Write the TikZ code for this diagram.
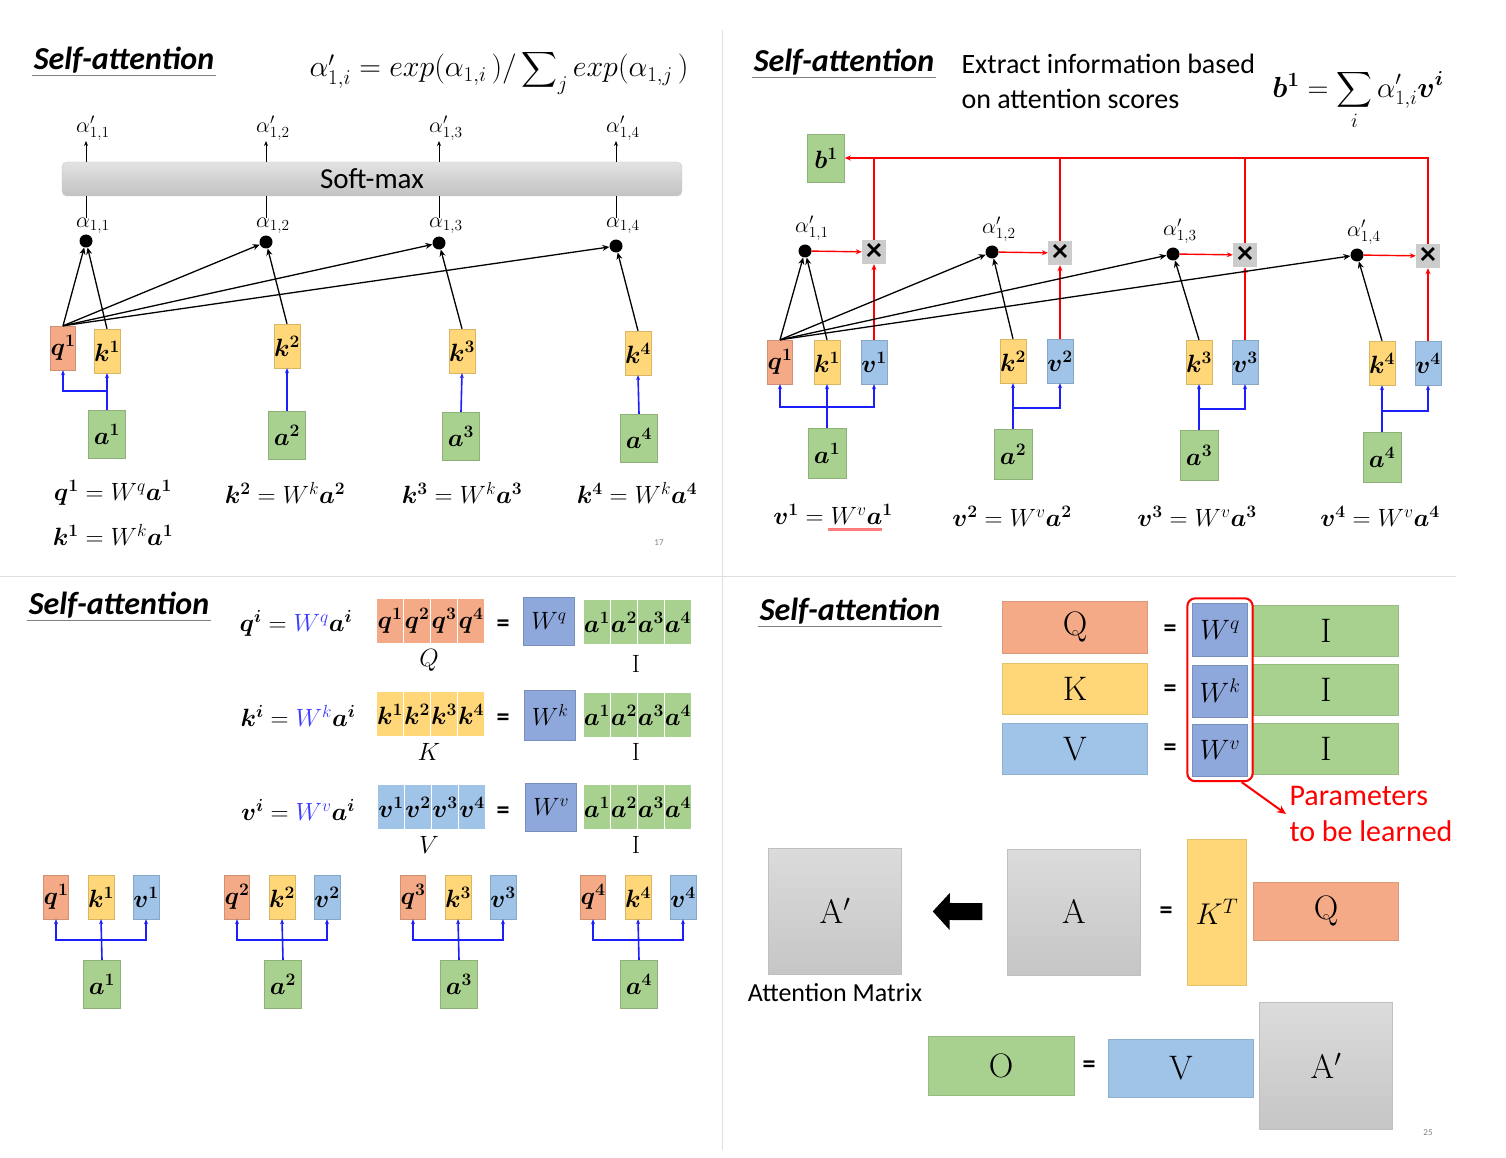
\RequirePackage{fix-cm}
\documentclass[tikz,border=0pt]{standalone}
\usepackage{amsmath,bm}
\usepackage[no-math]{fontspec}
\setmainfont{Carlito}
\usetikzlibrary{arrows.meta,fit,positioning}

\definecolor{qcol}{RGB}{244,170,135}
\definecolor{kcol}{RGB}{255,214,120}
\definecolor{vcol}{RGB}{160,195,232}
\definecolor{acol}{RGB}{168,208,142}
\definecolor{wcol}{RGB}{142,168,220}
\definecolor{feedblue}{RGB}{30,30,250}
\definecolor{wblue}{RGB}{60,60,255}

\newcommand{\mfont}{\fontsize{25}{27}\selectfont}
\newcommand{\lfont}{\fontsize{22}{23}\selectfont}
\newcommand{\bfont}{\fontsize{34}{36}\selectfont}

\tikzset{
  vecbox/.style={fill=#1, draw=#1!85!black, inner sep=0pt, minimum width=24, minimum height=44, font=\mfont},
  inbox/.style={fill=acol, draw=acol!85!black, inner sep=0pt, minimum width=37, minimum height=48, font=\mfont},
  cell/.style={fill=#1, draw=white, line width=1.2pt, inner sep=0pt, minimum width=27, minimum height=45, font=\mfont},
  bigbox/.style={fill=#1, draw=#1!90!black, inner sep=0pt, font=\bfont},
  graybox/.style={top color=gray!28, bottom color=gray!45, draw=gray!50, inner sep=0pt, minimum width=133, minimum height=126, font=\bfont},
  wbox/.style={fill=wcol, draw=wcol!85!black, inner sep=0pt, font=\fontsize{28}{30}\selectfont},
  scoredot/.style={circle, fill=black, inner sep=0pt, minimum size=13},
  mulbox/.style={fill=gray!40, inner sep=0pt, minimum size=24, font=\fontsize{32}{32}\selectfont\bfseries},
  score/.style={-{Stealth[length=7pt,width=6pt]}, line width=1.3pt},
  feed/.style={-{Stealth[length=5pt,width=4pt]}, feedblue, line width=1.6pt},
  sumline/.style={red, line width=1.4pt},
  sumarrow/.style={red, line width=1.4pt, -{Stealth[length=6pt,width=5pt]}},
  paneltitle/.style={font=\fontsize{32}{33}\selectfont\bfseries\itshape, inner sep=2pt},
  eqsign/.style={font=\fontsize{26}{26}\selectfont\bfseries, inner sep=1pt},
  pagenum/.style={font=\fontsize{9}{9}\selectfont, text=gray},
  fatarrow/.style={line width=17pt, -{Triangle[length=17pt,width=36pt]}, shorten <=25pt, shorten >=31pt},
}

\begin{document}
\begin{tikzpicture}[x=1pt, y=-1pt]
\useasboundingbox (0,0) rectangle (1506,1158);
% panel dividers
\draw[gray!25, line width=1pt] (722,30) -- (722,1150);
\draw[gray!25, line width=1pt] (0,576) -- (1456,576);

% ---------- top left: attention scores + soft-max
\node[paneltitle] (tl) at (124,60) {Self-attention};
\draw[gray, line width=0.8pt] (tl.south west) -- (tl.south east);
\node[font=\fontsize{30}{32}\selectfont] (smeq) at (499,72)
  {$\alpha'_{1,i} = exp(\alpha_{1,i}\,)/\displaystyle\sum\nolimits_j exp(\alpha_{1,j}\,)$};
\node[top color=gray!22, bottom color=gray!48, draw=gray!45, rounded corners=5, minimum width=620, minimum height=34,
  font=\fontsize{29}{30}\selectfont] (sm) at (372,179) {Soft-max};

\foreach \i/\x/\y in {1/86/241, 2/266/242, 3/439/243, 4/616/246} {
  \node[scoredot] (d\i) at (\x,\y) {};
  \node[anchor=south west, inner sep=0pt, font=\lfont] (s\i) at (\x-10,234) {$\alpha_{1,\i}$};
  \node[anchor=south west, inner sep=0pt, font=\lfont] (p\i) at (\x-10,141) {$\alpha'_{1,\i}$};
  \draw[-{Stealth[length=5pt,width=4pt]}, line width=1pt] (sm.north -| d\i) -- (d\i |- p\i.south);
  \draw[line width=1pt] (sm.south -| d\i) -- (d\i |- s\i.north);
}

\node[vecbox=qcol] (q1) at (63,348) {$\bm{q^1}$};
\foreach \i/\x/\y in {1/107/351, 2/287/346, 3/462/351, 4/638/353}
  \node[vecbox=kcol] (k\i) at (\x,\y) {$\bm{k^\i}$};
\foreach \i/\x/\y in {1/107/434, 2/287/435, 3/461/436, 4/639/438}
  \node[inbox] (a\i) at (\x,\y) {$\bm{a^\i}$};

\foreach \i in {1,...,4} {
  \draw[score] (q1.north) -- (d\i);
  \draw[score] (k\i.north) -- (d\i);
  \draw[feed] (a\i.north) -- (k\i.south);
}
\draw[feed] (a1.north) ++(0,-19) -| (q1.south);

\node[font=\mfont] (e1) at (113,493) {$\bm{q^1} = W^q\bm{a^1}$};
\node[font=\mfont] (e2) at (113,535) {$\bm{k^1} = W^k\bm{a^1}$};
\node[font=\mfont] (e3) at (285,493) {$\bm{k^2} = W^k\bm{a^2}$};
\node[font=\mfont] (e4) at (462,493) {$\bm{k^3} = W^k\bm{a^3}$};
\node[font=\mfont] (e5) at (637,493) {$\bm{k^4} = W^k\bm{a^4}$};
\node[pagenum] (pg1) at (659,543) {17};

% ---------- top right: weighted sum of values
\node[paneltitle] (tr) at (844,62) {Self-attention};
\draw[gray, line width=0.8pt] (tr.south west) -- (tr.south east);
\node[anchor=west, align=left, font=\fontsize{28}{35}\selectfont] (info) at (958,81)
  {Extract information based\\on attention scores};
\node[font=\fontsize{29}{31}\selectfont] (beq) at (1358,100)
  {$\bm{b^1} = \displaystyle\sum_i \alpha'_{1,i}\bm{v^i}$};
\node[inbox] (b1) at (826,158) {$\bm{b^1}$};

\foreach \i/\xd/\xm/\y in {1/805/874/251, 2/992/1060/252, 3/1173/1245/254, 4/1357/1428/255} {
  \node[scoredot] (bd\i) at (\xd,\y) {};
  \node[mulbox] (bm\i) at (\xm,\y+1) {×};
  \node[anchor=south west, inner sep=0pt, font=\lfont] (bp\i) at (\xd-10,\y-10) {$\alpha'_{1,\i}$};
}

\node[vecbox=qcol] (bq1) at (780,362) {$\bm{q^1}$};
\foreach \i/\xk/\xv/\y in {1/827/874/362, 2/1013/1060/361, 3/1199/1245/362, 4/1382/1428/363} {
  \node[vecbox=kcol] (bk\i) at (\xk,\y) {$\bm{k^\i}$};
  \node[vecbox=vcol] (bv\i) at (\xv,\y) {$\bm{v^\i}$};
}
\foreach \i/\x/\y in {1/827/453, 2/1013/454, 3/1199/455, 4/1382/457}
  \node[inbox, minimum width=38, minimum height=50] (ba\i) at (\x,\y) {$\bm{a^\i}$};

\foreach \i in {1,...,4} {
  \draw[score] (bq1.north) -- (bd\i);
  \draw[score] (bk\i.north) -- (bd\i);
  \draw[sumarrow] (bd\i) -- (bm\i);
  \draw[sumarrow] (bv\i.north) -- (bm\i.south);
  \draw[feed] (ba\i.north) -- (bk\i.south);
  \draw[feed] (ba\i.north) ++(0,-21) -| (bv\i.south);
}
\draw[feed] (ba1.north) ++(0,-21) -| (bq1.south);
\foreach \i in {1,2,3}
  \draw[sumline] (bm\i.north) -- (bm\i |- b1.east);
\draw[sumarrow] (bm4.north) |- (b1.east);

\node[font=\mfont] (f1) at (833,514) {$\bm{v^1} = W^v\bm{a^1}$};
\node[font=\mfont] (f2) at (1012,516) {$\bm{v^2} = W^v\bm{a^2}$};
\node[font=\mfont] (f3) at (1197,516) {$\bm{v^3} = W^v\bm{a^3}$};
\node[font=\mfont] (f4) at (1380,516) {$\bm{v^4} = W^v\bm{a^4}$};
\draw[red!35!pink, line width=3pt] (828,529) -- (882,529);

% ---------- bottom left: matrix form
\node[paneltitle] (bl) at (119,605) {Self-attention};
\draw[gray, line width=0.8pt] (bl.south west) -- (bl.south east);

\node[font=\mfont] (ce1) at (296,623) {$\bm{q^i} = {\color{wblue}W^q}\bm{a^i}$};
\node[font=\mfont] (ce2) at (298,716) {$\bm{k^i} = {\color{wblue}W^k}\bm{a^i}$};
\node[font=\mfont] (ce3) at (298,810) {$\bm{v^i} = {\color{wblue}W^v}\bm{a^i}$};

\foreach \j/\x/\xa in {1/390/597, 2/417/624, 3/444/651, 4/471/678} {
  \node[cell=qcol] (cq\j) at (\x,621) {$\bm{q^\j}$};
  \node[cell=kcol] (ck\j) at (\x,714) {$\bm{k^\j}$};
  \node[cell=vcol] (cv\j) at (\x+1,807) {$\bm{v^\j}$};
  \node[cell=acol] (cqa\j) at (\xa,622) {$\bm{a^\j}$};
  \node[cell=acol] (cka\j) at (\xa,715) {$\bm{a^\j}$};
  \node[cell=acol] (cva\j) at (\xa,807) {$\bm{a^\j}$};
}
\node[wbox, minimum width=51, minimum height=48, font=\mfont] (cwq) at (549,621) {$W^q$};
\node[wbox, minimum width=51, minimum height=50, font=\mfont] (cwk) at (550,715) {$W^k$};
\node[wbox, minimum width=51, minimum height=48, font=\mfont] (cwv) at (551,807) {$W^v$};
\node[eqsign] (ceq1) at (503,626) {=};
\node[eqsign] (ceq2) at (503,720) {=};
\node[eqsign] (ceq3) at (503,813) {=};
\node[font=\mfont] (cQ) at (429,660) {$Q$};
\node[font=\mfont] (cK) at (429,752) {$K$};
\node[font=\mfont] (cV) at (429,845) {$V$};
\node[font=\mfont] (cI1) at (636,664) {$\mathrm{I}$};
\node[font=\mfont] (cI2) at (636,752) {$\mathrm{I}$};
\node[font=\mfont] (cI3) at (636,845) {$\mathrm{I}$};

\foreach \i/\x in {1/56, 2/237, 3/413, 4/593} {
  \node[vecbox=qcol] (gq\i) at (\x,897) {$\bm{q^\i}$};
  \node[vecbox=kcol] (gk\i) at (\x+45,897) {$\bm{k^\i}$};
  \node[vecbox=vcol] (gv\i) at (\x+90,897) {$\bm{v^\i}$};
  \node[inbox] (ga\i) at (\x+46,984) {$\bm{a^\i}$};
  \draw[feed] (ga\i.north) -- (gk\i.south);
  \draw[feed] (ga\i.north) ++(0,-20) -| (gq\i.south);
  \draw[feed] (ga\i.north) ++(0,-20) -| (gv\i.south);
}

% ---------- bottom right: whole computation
\node[paneltitle] (brt) at (850,611) {Self-attention};
\draw[gray, line width=0.8pt] (brt.south west) -- (brt.south east);

\node[bigbox=qcol, minimum width=145, minimum height=52] (Qm) at (1075,627) {$\mathrm{Q}$};
\node[bigbox=kcol, minimum width=145, minimum height=51] (Km) at (1075,689) {$\mathrm{K}$};
\node[bigbox=vcol, minimum width=145, minimum height=51] (Vm) at (1075,749) {$\mathrm{V}$};
\node[eqsign] (deq1) at (1170,631) {=};
\node[eqsign] (deq2) at (1170,691) {=};
\node[eqsign] (deq3) at (1170,750) {=};
\node[wbox, minimum width=55, minimum height=53] (Wq) at (1220,630) {$W^q$};
\node[wbox, minimum width=55, minimum height=52] (Wk) at (1220,691) {$W^k$};
\node[wbox, minimum width=55, minimum height=52] (Wv) at (1220,750) {$W^v$};
\node[bigbox=acol, minimum width=145, minimum height=51] (I1) at (1326,631) {$\mathrm{I}$};
\node[bigbox=acol, minimum width=145, minimum height=51] (I2) at (1326,690) {$\mathrm{I}$};
\node[bigbox=acol, minimum width=145, minimum height=51] (I3) at (1326,749) {$\mathrm{I}$};
\node[fit=(Wq)(Wv), draw=red, line width=2pt, rounded corners=8, inner sep=5pt] (Wgrp) {};
\node[anchor=west, align=left, text=red, font=\fontsize{30}{36}\selectfont] (par) at (1286,814)
  {Parameters\\to be learned};
\draw[red, line width=2pt, -{Stealth[length=9pt,width=8pt]}] ([xshift=-12pt]Wgrp.south east) -- (par.west);

\node[graybox] (Ap) at (835,911) {$\mathrm{A}'$};
\node[below=6pt of Ap, font=\fontsize{26}{28}\selectfont] (amx) {Attention Matrix};
\node[graybox] (Am) at (1074,912) {$\mathrm{A}$};
\draw[fatarrow] (Am) -- (Ap);
\node[eqsign] (deq4) at (1166,913) {=};
\node[bigbox=kcol, minimum width=59, minimum height=146, font=\fontsize{30}{32}\selectfont] (KT) at (1217,912) {$K^T$};
\node[bigbox=qcol, minimum width=145, minimum height=58] (Qr) at (1326,911) {$\mathrm{Q}$};

\node[bigbox=acol, minimum width=146, minimum height=59] (Om) at (1001,1066) {$\mathrm{O}$};
\node[eqsign] (deq5) at (1089,1067) {=};
\node[bigbox=vcol, minimum width=145, minimum height=58] (Vr) at (1181,1068) {$\mathrm{V}$};
\node[graybox, minimum height=127] (Ap2) at (1326,1066) {$\mathrm{A}'$};
\node[pagenum] (pg2) at (1428,1133) {25};
\end{tikzpicture}
\end{document}
